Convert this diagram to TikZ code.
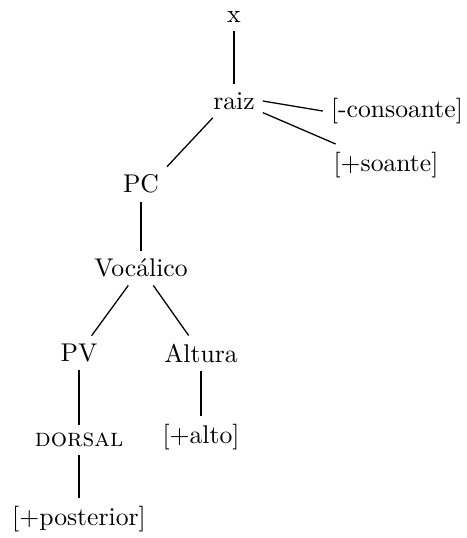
\documentclass[tikz,border=0pt]{standalone}
\begin{document}
\begin{tikzpicture}[x=0.39pt,y=-0.39pt,
  lab/.style={inner sep=3pt},
  edge/.style={draw=black,line width=0.5pt}]
\useasboundingbox (0,0) rectangle (467,538);
\node[lab] (x) at (234,17) {x};
\node[lab] (raiz) at (234,101) {raiz};
\node[lab] (cons) at (397,111) {[-consoante]};
\node[lab] (soante) at (386,165) {[+soante]};
\node[lab] (pc) at (141,184) {PC};
\node[lab] (voc) at (141,268) {Voc\'alico};
\node[lab] (pv) at (79,353) {PV};
\node[lab] (alt) at (201,353) {Altura};
\node[lab] (dors) at (79,440) {\textsc{dorsal}};
\node[lab] (alto) at (201,437) {[+alto]};
\node[lab] (post) at (79,519) {[+posterior]};
\draw[edge] (x) -- (raiz);
\draw[edge] (raiz.east) -- (cons.west);
\draw[edge] ([yshift=2pt]raiz.south east) -- ([xshift=4pt]soante.north west);
\draw[edge] ([xshift=3pt]raiz.south west) -- (pc.north east);
\draw[edge] (pc) -- (voc);
\draw[edge] (voc) -- (pv);
\draw[edge] (voc) -- (alt);
\draw[edge] (pv) -- (dors);
\draw[edge] (alt) -- (alto);
\draw[edge] (dors) -- (post);
\end{tikzpicture}
\end{document}
